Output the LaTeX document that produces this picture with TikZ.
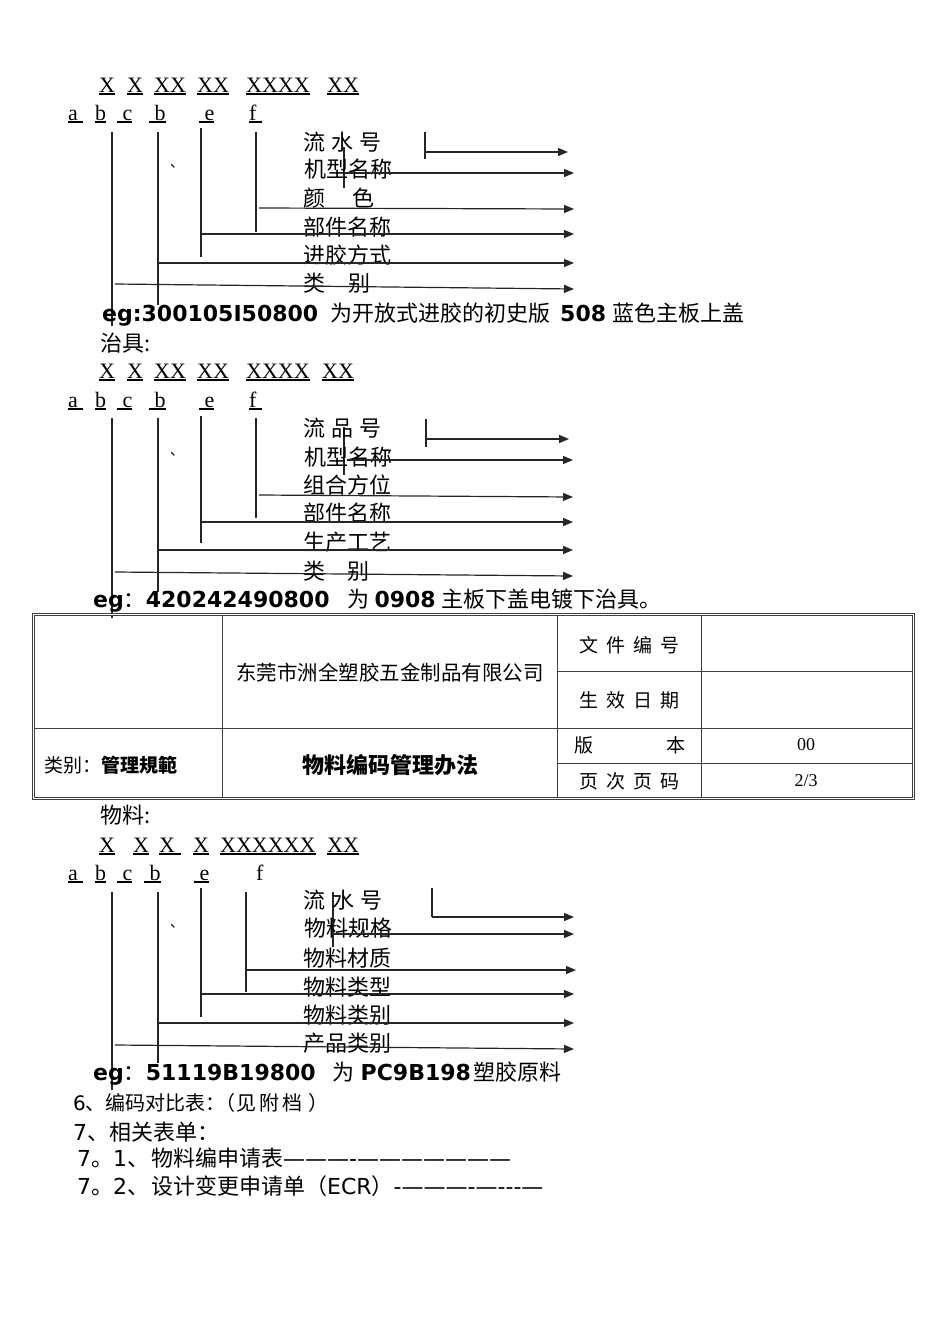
\documentclass[tikz,border=0pt]{standalone}
\usepackage{fontspec}
\setmainfont{Liberation Serif}
\newfontfamily\cjk{Noto Sans CJK SC}
\newfontfamily\djv{DejaVu Sans}
\usetikzlibrary{arrows.meta}
\newcommand\xul[1]{\setbox0\hbox{#1}\rlap{\rule[-2.6pt]{\wd0}{1.2pt}}\box0}
\tikzset{
  lab/.style={anchor=west,inner sep=0pt,font=\cjk\fontsize{22}{24}\selectfont},
  kod/.style={anchor=base west,inner sep=0pt,font=\fontsize{22}{24}\selectfont},
  egs/.style={anchor=base west,inner sep=0pt,font=\djv\bfseries\fontsize{22}{24}\selectfont},
  pip/.style={anchor=base west,inner sep=0pt,font=\cjk\fontsize{14}{16}\selectfont},
  von/.style={line width=1.2pt,draw=black!85},
  nyl/.style={von,-{Triangle[length=10pt,width=8pt]}},
  tab/.style={line width=1pt,draw=black!75},
  cel/.style={inner sep=0pt,font=\cjk\fontsize{19}{21}\selectfont},
  szm/.style={inner sep=0pt,font=\fontsize{18}{20}\selectfont},
  sor/.style={anchor=base west,inner sep=0pt,font=\cjk\fontsize{22}{24}\selectfont},
}

\begin{document}
\begin{tikzpicture}[x=1pt,y=-1pt]
  \useasboundingbox (0,0) rectangle (950,1344);
  \fill[white] (0,0) rectangle (950,1344);

  \node[kod] (s1x1) at (99,92) {\xul{X}};
  \node[kod] (s1x2) at (127,92) {\xul{X}};
  \node[kod] (s1x3) at (154,92) {\xul{XX}};
  \node[kod] (s1x4) at (197,92) {\xul{XX}};
  \node[kod] (s1x5) at (246,92) {\xul{XXXX}};
  \node[kod] (s1x6) at (327,92) {\xul{XX}};
  \node[kod] (s1a) at (68,120) {\xul{a\ }};
  \node[kod] (s1b) at (95,120) {\xul{b}};
  \node[kod] (s1c) at (117,120) {\xul{\ c}};
  \node[kod] (s1d) at (149,120) {\xul{\ b}};
  \node[kod] (s1e) at (199,120) {\xul{\ e}};
  \node[kod] (s1f) at (249,120) {\xul{f\ }};
  \node[pip] (s1p) at (170,167) {、};
  \draw[von] (112,132) -- (112,326);
  \draw[von] (158,132) -- (158,305);
  \draw[von] (201,128) -- (201,257);
  \draw[von] (256,132) -- (256,232);
  \draw[von] (344,147) -- (344,188);
  \draw[von] (425,132) -- (425,159);
  \node[lab] (s1l1) at (303,142) {流\hspace{6pt}水\hspace{6pt}号};
  \node[lab] (s1l2) at (304,169) {机型名称};
  \node[lab] (s1l3) at (303,198) {颜\hspace{27pt}色};
  \node[lab] (s1l4) at (303,227) {部件名称};
  \node[lab] (s1l5) at (303,255) {进胶方式};
  \node[lab] (s1l6) at (303,283) {类\hspace{23pt}别};
  \draw[nyl] (425,152) -- (568,152);
  \draw[nyl] (344,173) -- (574,173);
  \draw[nyl] (259,208) -- (574,209);
  \draw[nyl] (201,234) -- (574,234);
  \draw[nyl] (158,263) -- (574,263);
  \draw[nyl] (115,284) -- (574,289);
  \node[egs] (s1eg) at (102,321) {eg:300105I50800\hspace{12pt}{\cjk\mdseries 为开放式进胶的初史版}\hspace{10pt}508\hspace{6pt}{\cjk\mdseries 蓝色主板上盖}};

  \node[lab] (s2h) at (100,343) {治具:};
  \node[kod] (s2x1) at (99,378) {\xul{X}};
  \node[kod] (s2x2) at (127,378) {\xul{X}};
  \node[kod] (s2x3) at (154,378) {\xul{XX}};
  \node[kod] (s2x4) at (197,378) {\xul{XX}};
  \node[kod] (s2x5) at (246,378) {\xul{XXXX}};
  \node[kod] (s2x6) at (322,378) {\xul{XX}};
  \node[kod] (s2a) at (68,407) {\xul{a\ }};
  \node[kod] (s2b) at (95,407) {\xul{b}};
  \node[kod] (s2c) at (117,407) {\xul{\ c}};
  \node[kod] (s2d) at (149,407) {\xul{\ b}};
  \node[kod] (s2e) at (199,407) {\xul{\ e}};
  \node[kod] (s2f) at (249,407) {\xul{f\ }};
  \node[pip] (s2p) at (170,455) {、};
  \draw[von] (112,418) -- (112,618);
  \draw[von] (158,418) -- (158,592);
  \draw[von] (201,416) -- (201,543);
  \draw[von] (256,418) -- (256,518);
  \draw[von] (344,427) -- (344,475);
  \draw[von] (426,419) -- (426,447);
  \node[lab] (s2l1) at (303,428) {流\hspace{6pt}品\hspace{6pt}号};
  \node[lab] (s2l2) at (304,457) {机型名称};
  \node[lab] (s2l3) at (303,485) {组合方位};
  \node[lab] (s2l4) at (303,513) {部件名称};
  \node[lab] (s2l5) at (303,542) {生产工艺};
  \node[lab] (s2l6) at (303,571) {类\hspace{22pt}别};
  \draw[nyl] (426,439) -- (569,439);
  \draw[nyl] (347,460) -- (573,460);
  \draw[nyl] (259,495) -- (573,497);
  \draw[nyl] (201,522) -- (573,522);
  \draw[nyl] (158,550) -- (573,550);
  \draw[nyl] (115,572) -- (573,576);
  \node[egs] (s2eg) at (93,607) {eg{\cjk\mdseries ：}420242490800\hspace{18pt}{\cjk\mdseries 为}\hspace{5pt}0908\hspace{6pt}{\cjk\mdseries 主板下盖电镀下治具。}};

  \draw[tab,double,double distance=1pt] (33,614) rectangle (913,798);
  \draw[tab] (222,615) -- (222,797);
  \draw[tab] (557,615) -- (557,798);
  \draw[tab] (701,615) -- (701,798);
  \draw[tab] (34,728) -- (913,728);
  \draw[tab] (557,671) -- (913,671);
  \draw[tab] (557,763) -- (913,763);
  \node[cel,font=\cjk\fontsize{20.5}{22}\selectfont] (gsm) at (390,673) {东莞市洲全塑胶五金制品有限公司};
  \node[cel] (wjbh) at (629,645) {文\hspace{8pt}件\hspace{8pt}编\hspace{8pt}号};
  \node[cel] (sxrq) at (629,700) {生\hspace{8pt}效\hspace{8pt}日\hspace{8pt}期};
  \node[cel,anchor=west] (bb) at (574,745) {版\hspace{73pt}本};
  \node[cel] (ycym) at (629,781) {页\hspace{8pt}次\hspace{8pt}页\hspace{8pt}码};
  \node[szm] (bbh) at (806,745) {00};
  \node[szm] (ym) at (806,781) {2/3};
  \node[cel,anchor=west] (lb) at (44,765) {类别：{\bfseries 管理規範}};
  \node[cel,font=\cjk\bfseries\fontsize{22}{24}\selectfont] (bt) at (390,765) {物料编码管理办法};

  \node[lab] (s3h) at (100,815) {物料:};
  \node[kod] (s3x1) at (99,852) {\xul{X}};
  \node[kod] (s3x2) at (133,852) {\xul{X}};
  \node[kod] (s3x3) at (159,852) {\xul{X\ }};
  \node[kod] (s3x4) at (193,852) {\xul{X}};
  \node[kod] (s3x5) at (220,852) {\xul{XXXXXX}};
  \node[kod] (s3x6) at (327,852) {\xul{XX}};
  \node[kod] (s3a) at (68,880) {\xul{a\ }};
  \node[kod] (s3b) at (95,880) {\xul{b}};
  \node[kod] (s3c) at (117,880) {\xul{\ c}};
  \node[kod] (s3d) at (144,880) {\xul{\ b}};
  \node[kod] (s3e) at (194,880) {\xul{\ e}};
  \node[kod] (s3f) at (256,880) {f};
  \node[pip] (s3p) at (170,927) {、};
  \draw[von] (112,892) -- (112,1090);
  \draw[von] (158,892) -- (158,1063);
  \draw[von] (201,888) -- (201,1017);
  \draw[von] (246,892) -- (246,992);
  \draw[von] (333,892) -- (333,947);
  \draw[von] (432,888) -- (432,917);
  \node[lab] (s3l1) at (303,900) {流\hspace{7pt}水\hspace{6pt}号};
  \node[lab] (s3l2) at (304,928) {物料规格};
  \node[lab] (s3l3) at (303,958) {物料材质};
  \node[lab] (s3l4) at (303,987) {物料类型};
  \node[lab] (s3l5) at (303,1015) {物料类别};
  \node[lab] (s3l6) at (303,1043) {产品类别};
  \draw[nyl] (432,917) -- (574,917);
  \draw[nyl] (333,934) -- (574,934);
  \draw[nyl] (247,970) -- (576,970);
  \draw[nyl] (201,994) -- (574,994);
  \draw[nyl] (158,1023) -- (574,1023);
  \draw[nyl] (115,1045) -- (574,1049);
  \node[egs] (s3eg) at (93,1080) {eg{\cjk\mdseries ：}51119B19800\hspace{17pt}{\cjk\mdseries 为}\hspace{6pt}PC9B198\hspace{3pt}{\cjk\mdseries 塑胶原料}};

  \node[sor,font=\cjk\fontsize{20}{22}\selectfont] (p6) at (73,1110) {{\djv 6}、编码对比表：\hspace{-10pt}（\hspace{1pt}见\hspace{3pt}附\hspace{3pt}档\hspace{6pt}）};
  \node[sor] (p7) at (73,1140) {{\djv 7}、相关表单：};
  \node[sor] (p71) at (77,1166) {{\djv 7}。{\djv 1}、\hspace{2pt}物料编申请表{\djv ———-———————}};
  \node[sor] (p72) at (77,1194) {{\djv 7}。{\djv 2}、\hspace{2pt}设计变更申请单（{\djv ECR}）{\djv -———-—-\kern0pt-\kern0pt-—}};
\end{tikzpicture}
\end{document}
